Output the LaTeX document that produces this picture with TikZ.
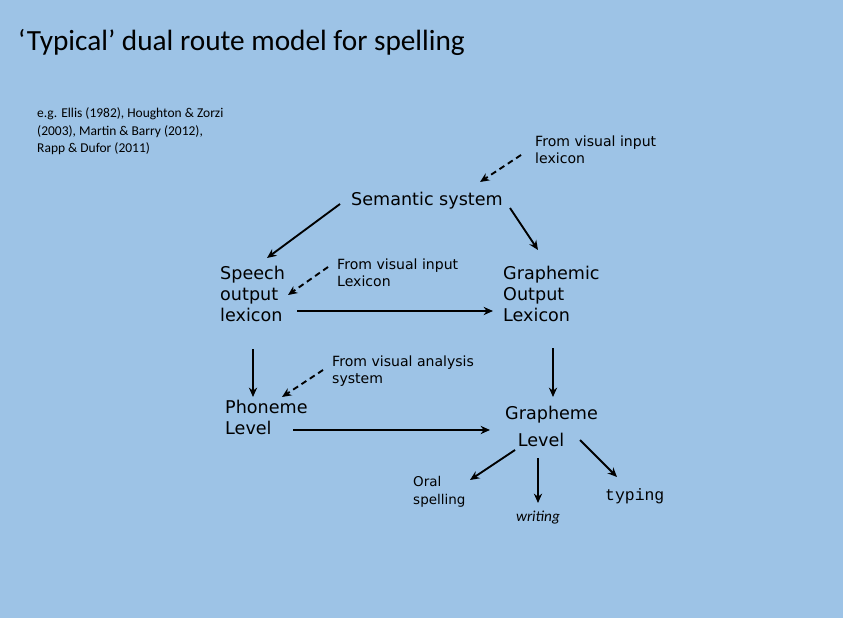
\documentclass[tikz,border=0pt]{standalone}
\usepackage{fontspec}
\setmainfont{Carlito}
\newfontfamily\vfont{DejaVu Sans}
\newfontfamily\mfont{Liberation Mono}
\usetikzlibrary{arrows.meta}
\definecolor{bg}{HTML}{9DC3E6}
\begin{document}
\begin{tikzpicture}[x=0.03cm,y=-0.03cm,
  lbl/.style={font=\vfont\fontsize{15}{18}\selectfont, align=left, inner sep=0pt},
  sml/.style={font=\vfont\fontsize{12}{14.5}\selectfont, align=left, inner sep=0pt},
  arr/.style={-{Stealth[length=8pt,width=7pt]}, line width=1.6pt},
  darr/.style={arr, dash pattern=on 5pt off 3.5pt}]
\fill[bg] (0,0) rectangle (843,618);
\node[anchor=west,inner sep=0pt,font=\fontsize{25}{30}\selectfont] (title) at (18,42) {‘Typical’ dual route model for spelling};
\node[anchor=north west,inner sep=0pt,align=left,font=\fontsize{11.5}{15.3}\selectfont] (cite) at (37,107) {e.g. Ellis (1982), Houghton \& Zorzi\\(2003), Martin \& Barry (2012),\\Rapp \& Dufor (2011)};
\node[sml,anchor=north west] (fv1) at (535,136) {From visual input\\lexicon};
\node[lbl] (sem) at (427,201) {Semantic system};
\node[lbl,anchor=north west] (sol) at (220,266) {Speech\\output\\lexicon};
\node[lbl,anchor=north west] (gol) at (503,266) {Graphemic\\Output\\Lexicon};
\node[sml,anchor=north west] (fv2) at (337,259) {From visual input\\Lexicon};
\node[sml,anchor=north west] (fva) at (332,356) {From visual analysis\\system};
\node[lbl,anchor=north west] (pl) at (225,400) {Phoneme\\Level};
\node[lbl,anchor=west] (gl1) at (505,415) {Grapheme};
\node[lbl] (gl2) at (541,440) {Level};
\node[anchor=north west,inner sep=0pt,align=left,font=\vfont\fontsize{11.5}{15}\selectfont] (oral) at (413,476) {Oral\\spelling};
\node[inner sep=0pt,font=\itshape\fontsize{13}{15}\selectfont] (wr) at (538,518) {writing};
\node[anchor=west,inner sep=0pt,font=\mfont\fontsize{14}{16}\selectfont] (ty) at (605,496) {typing};
\coordinate (a1) at (521,155); \coordinate (b1) at (480,182);
\coordinate (a2) at (328,267); \coordinate (b2) at (288,295);
\coordinate (a3) at (323,370); \coordinate (b3) at (282,397);
\draw[darr] (a1) -- (b1);
\draw[darr] (a2) -- (b2);
\draw[darr] (a3) -- (b3);
\draw[arr] (340,204) -- (267,258);
\draw[arr] (510,208) -- (538,250);
\draw[arr] (297,311) -- (493,311);
\draw[arr] (253,349) -- (253,397);
\draw[arr] (553,348) -- (553,397);
\draw[arr] (293,430) -- (490,430);
\draw[arr] (515,450) -- (470,480);
\draw[arr] (538,458) -- (538,503);
\draw[arr] (580,440) -- (617,477);
\end{tikzpicture}
\end{document}
